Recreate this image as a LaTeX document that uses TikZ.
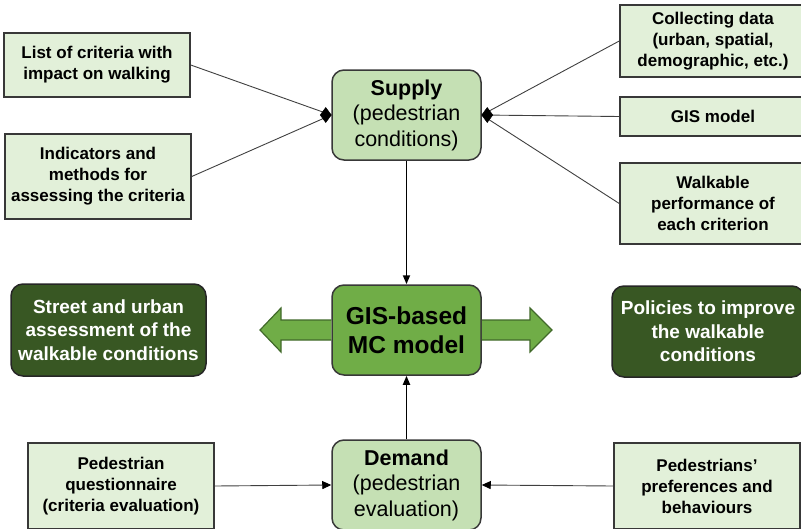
\documentclass[tikz,border=0pt]{standalone}
\usepackage{fontspec}
\setmainfont{Liberation Sans}
\usetikzlibrary{arrows.meta,calc}
\definecolor{lightbox}{HTML}{E2F0D9}
\definecolor{midbox}{HTML}{C5E0B4}
\definecolor{gisgreen}{HTML}{70AD47}
\definecolor{darkbox}{HTML}{385723}
\definecolor{arrowedge}{HTML}{41692A}
\definecolor{edgegray}{HTML}{383838}
\definecolor{linegray}{HTML}{404040}
\begin{document}
\begin{tikzpicture}[x=1pt,y=-1pt,
  lightnode/.style={draw=edgegray, line width=1.5pt, fill=lightbox, align=center, inner sep=0pt,
    font=\fontsize{17}{21}\selectfont\bfseries},
  midnode/.style={draw=edgegray, line width=1.5pt, fill=midbox, align=center, inner sep=0pt,
    rounded corners=12pt, minimum width=149pt, minimum height=90pt,
    font=\fontsize{21.5}{25.5}\selectfont},
  gisnode/.style={draw=edgegray, line width=1.5pt, fill=gisgreen, align=center, inner sep=0pt,
    rounded corners=12pt, minimum width=149pt, minimum height=90pt,
    font=\fontsize{24.5}{29.5}\selectfont\bfseries},
  darknode/.style={draw=black!85, line width=1.5pt, fill=darkbox, text=white, align=center, inner sep=0pt,
    rounded corners=12pt, font=\fontsize{19}{23.5}\selectfont\bfseries},
  feedline/.style={draw=linegray, line width=0.9pt},
  diamondmark/.style={fill=black, draw=black, line width=0.5pt, line join=miter},
  smalltip/.style={-{Triangle[length=9pt,width=8pt,color=black,fill=black]}},
  mainarrow/.style={draw=black, line width=1.8pt, -{Triangle[length=9pt,width=7pt]}},
  blockarrow/.style={draw=arrowedge, line width=1.2pt, fill=gisgreen, line join=miter}
]
\useasboundingbox (0,0) rectangle (801,528);
\clip (0,0) rectangle (801,528);

% left input boxes
\node[lightnode, minimum width=186pt, minimum height=64pt] (list) at (97,65)
  {List of criteria with\\impact on walking};
\node[lightnode, minimum width=186pt, minimum height=85pt] (indic) at (98,176.5)
  {Indicators and\\methods for\\assessing the criteria};

% supply
\node[midnode] (supply) at (406.5,115) {\textbf{Supply}\\(pedestrian\\conditions)};

% right input boxes
\node[lightnode, minimum width=186pt, minimum height=72pt] (collect) at (713,41)
  {Collecting data\\(urban, spatial,\\demographic, etc.)};
\node[lightnode, minimum width=186pt, minimum height=39pt] (gis) at (713,116.5)
  {GIS model};
\node[lightnode, minimum width=186pt, minimum height=81pt] (walk) at (713,203.5)
  {Walkable\\performance of\\each criterion};

% central model
\node[gisnode] (model) at (406.5,330) {GIS-based\\MC model};

% outputs
\node[darknode, minimum width=195pt, minimum height=92pt] (street) at (108.5,330)
  {Street and urban\\assessment of the\\walkable conditions};
\node[darknode, minimum width=192pt, minimum height=91pt] (policy) at (708,331.5)
  {Policies to improve\\the walkable\\conditions};

% demand
\node[midnode] (demand) at (406.5,485) {\textbf{Demand}\\(pedestrian\\evaluation)};
\node[lightnode, minimum width=186pt, minimum height=86pt] (quest) at (121,486)
  {Pedestrian\\questionnaire\\(criteria evaluation)};
\node[lightnode, minimum width=186pt, minimum height=86pt] (pref) at (707,486)
  {Pedestrians'\\preferences and\\behaviours};

% connectors to supply
\draw[feedline] (list.east) -- (supply.west);
\draw[feedline] (indic.east) -- (supply.west);
\draw[feedline] (collect.west) -- (supply.east);
\draw[feedline] (gis.west) -- (supply.east);
\draw[feedline] (walk.west) -- (supply.east);
\fill[diamondmark] (supply.west) -- ++(-5.5,-7.5) -- ++(-5.5,7.5) -- ++(5.5,7.5) -- cycle;
\fill[diamondmark] (supply.east) -- ++(5.5,-7.5) -- ++(5.5,7.5) -- ++(-5.5,7.5) -- cycle;

% main flow
\draw[mainarrow] (supply.south) -- (model.north);
\draw[mainarrow] (demand.north) -- (model.south);

% connectors to demand
\draw[feedline, smalltip] (quest.east) -- (demand.west);
\draw[feedline, smalltip] (pref.west) -- (demand.east);

% block arrows
\draw[blockarrow] (model.west |- 0,320) -- (281,320) -- (281,308) -- (260,330)
  -- (281,352) -- (281,340) -- (model.west |- 0,340);
\draw[blockarrow] (model.east |- 0,320) -- (530,320) -- (530,308) -- (552,330)
  -- (530,352) -- (530,340) -- (model.east |- 0,340);
\end{tikzpicture}
\end{document}
